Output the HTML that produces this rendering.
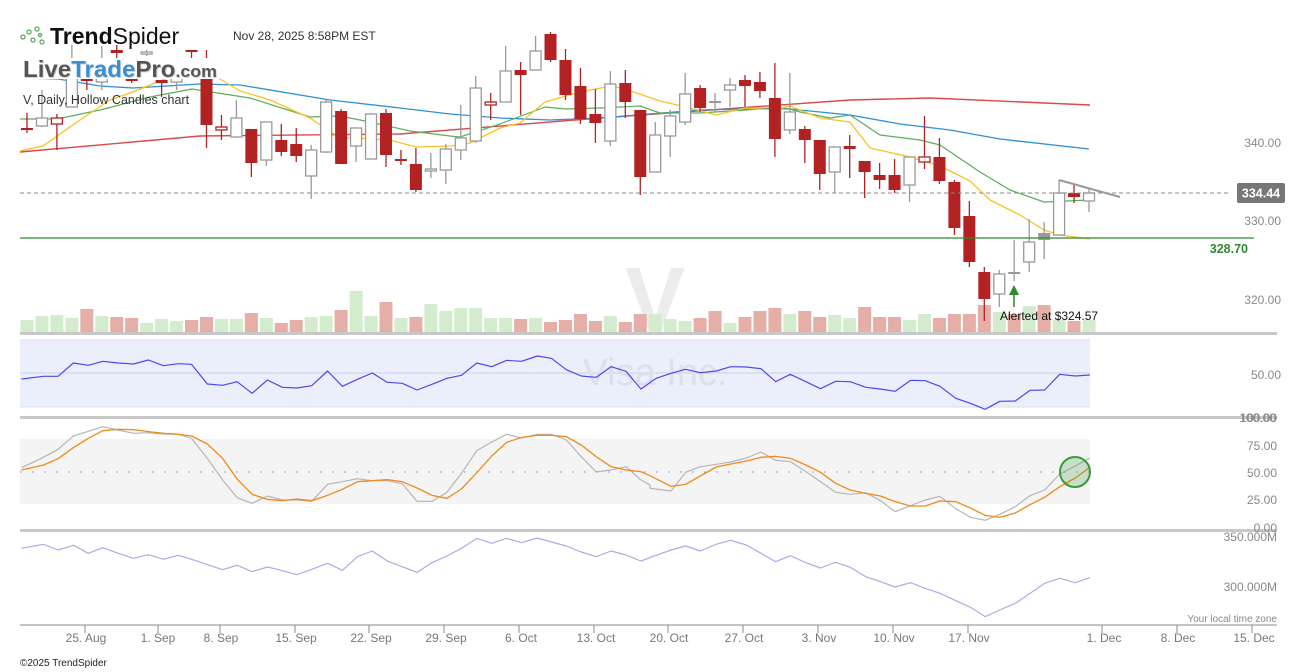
<!DOCTYPE html>
<html><head><meta charset="utf-8">
<style>
html,body{margin:0;padding:0;background:#fff;}
body{width:1307px;height:672px;overflow:hidden;position:relative;font-family:"Liberation Sans",sans-serif;}
svg{position:absolute;left:0;top:0;}
</style></head>
<body>
<svg id="s" width="1307" height="672" xmlns="http://www.w3.org/2000/svg" font-family="Liberation Sans, sans-serif">
<text x="655" y="330" font-size="90" fill="#ececec" text-anchor="middle" font-weight="bold">V</text>
<!-- panels bg -->
<rect x="20" y="340" width="1070" height="67" fill="#ebeefb"/>
<line x1="20" y1="340" x2="1090" y2="340" stroke="#d8dcf2"/>
<line x1="20" y1="407" x2="1090" y2="407" stroke="#d8dcf2"/>
<line x1="20" y1="373" x2="1090" y2="373" stroke="#ccd0e8"/>
<text x="655" y="385" font-size="38" fill="#dcdfee" text-anchor="middle">Visa Inc.</text>
<rect x="20" y="439" width="1070" height="65" fill="#f4f4f4"/>
<line x1="20" y1="472" x2="1090" y2="472" stroke="#a9a0e6" stroke-dasharray="1.5,10.5" stroke-width="1.5"/>
<g id="g"></g>
<!-- separators -->
<rect x="20" y="332" width="1257" height="3" fill="#c8c8c8"/>
<rect x="20" y="416" width="1257" height="3" fill="#c8c8c8"/>
<rect x="20" y="529" width="1257" height="3" fill="#c8c8c8"/>
<line x1="20" y1="625" x2="1277" y2="625" stroke="#888" stroke-width="1"/>
<!-- price lines -->
<line x1="20" y1="193" x2="1228" y2="193" stroke="#888" stroke-dasharray="4,3"/>
<line x1="20" y1="238" x2="1254" y2="238" stroke="#2e8b2e" stroke-width="1.2"/>
<line x1="1059" y1="180" x2="1120" y2="197" stroke="#999" stroke-width="2"/>
<rect x="1237" y="183" width="48" height="20" rx="2" fill="#777"/>
<text x="1261" y="197.5" font-size="12.5" fill="#fff" text-anchor="middle" font-weight="bold">334.44</text>
<text x="1248" y="253" font-size="12.5" fill="#2e8b2e" text-anchor="end" font-weight="bold">328.70</text>
<g font-size="12" fill="#888" text-anchor="end">
<text x="1281" y="147">340.00</text>
<text x="1281" y="225">330.00</text>
<text x="1281" y="304">320.00</text>
<text x="1281" y="379">50.00</text>
<text x="1277" y="422">100.00</text>
<text x="1276" y="422">100.00</text>
<text x="1277" y="450">75.00</text>
<text x="1277" y="477">50.00</text>
<text x="1277" y="504">25.00</text>
<text x="1277" y="532">0.00</text>
<text x="1277" y="541">350.000M</text>
<text x="1277" y="591">300.000M</text>
<text x="1277" y="622" font-size="10">Your local time zone</text>
</g>
<line x1="1014" y1="294" x2="1014" y2="307" stroke="#2e8b2e" stroke-width="1.5"/>
<polygon points="1014,285 1009,295 1019,295" fill="#2e8b2e"/>
<text x="1000" y="320" font-size="12" fill="#111">Alerted at $324.57</text>
<ellipse cx="1075" cy="472" rx="15" ry="15" fill="rgba(60,160,60,0.25)" stroke="#3a9a3a" stroke-width="2"/>
<g font-size="12" fill="#777" text-anchor="middle">
<text x="86" y="642">25. Aug</text><text x="158" y="642">1. Sep</text><text x="221" y="642">8. Sep</text>
<text x="296" y="642">15. Sep</text><text x="371" y="642">22. Sep</text><text x="446" y="642">29. Sep</text>
<text x="521" y="642">6. Oct</text><text x="596" y="642">13. Oct</text><text x="669" y="642">20. Oct</text>
<text x="744" y="642">27. Oct</text><text x="819" y="642">3. Nov</text><text x="894" y="642">10. Nov</text>
<text x="969" y="642">17. Nov</text><text x="1104" y="642">1. Dec</text><text x="1178" y="642">8. Dec</text>
<text x="1254" y="642">15. Dec</text>
</g>
<g stroke="#888"><line x1="85" y1="625" x2="85" y2="633"/><line x1="158" y1="625" x2="158" y2="633"/><line x1="220" y1="625" x2="220" y2="633"/><line x1="295" y1="625" x2="295" y2="633"/><line x1="369" y1="625" x2="369" y2="633"/><line x1="444" y1="625" x2="444" y2="633"/><line x1="519" y1="625" x2="519" y2="633"/><line x1="594" y1="625" x2="594" y2="633"/><line x1="668" y1="625" x2="668" y2="633"/><line x1="743" y1="625" x2="743" y2="633"/><line x1="818" y1="625" x2="818" y2="633"/><line x1="893" y1="625" x2="893" y2="633"/><line x1="968" y1="625" x2="968" y2="633"/><line x1="1102" y1="625" x2="1102" y2="633"/><line x1="1177" y1="625" x2="1177" y2="633"/><line x1="1252" y1="625" x2="1252" y2="633"/></g>
<text x="20" y="666" font-size="10" fill="#222">©2025 TrendSpider</text>
<!-- header -->
<rect x="0" y="0" width="230" height="45" fill="#fff"/>
<rect x="20" y="58" width="200" height="21" fill="#fff"/>
<g fill="none" stroke="#5aa85a" stroke-width="1.3">
<circle cx="23" cy="37" r="2"/><circle cx="29" cy="32" r="2"/><circle cx="33" cy="40" r="2"/><circle cx="37" cy="29" r="2"/><circle cx="42" cy="42" r="2"/><circle cx="40" cy="35" r="1.5"/>
</g>
<text x="50" y="44" font-size="23" fill="#111"><tspan font-weight="bold">Trend</tspan><tspan>Spider</tspan></text>
<text x="233" y="40" font-size="12" fill="#333">Nov 28, 2025 8:58PM EST</text>
<text x="24" y="78" font-size="23" font-weight="bold" fill="#bbb" opacity="0.6" textLength="194" lengthAdjust="spacingAndGlyphs">LiveTradePro<tspan font-size="17">.com</tspan></text>
<text x="23" y="77" font-size="23" font-weight="bold" fill="#555" textLength="194" lengthAdjust="spacingAndGlyphs"><tspan>Live</tspan><tspan fill="#3a8fd0">Trade</tspan><tspan>Pro</tspan><tspan font-size="17">.com</tspan></text>
<text x="23" y="104" font-size="12.5" fill="#333">V, Daily, Hollow Candles chart</text>
</svg>
<script>
var NS="http://www.w3.org/2000/svg",g=document.getElementById('g');
function el(t,a){var e=document.createElementNS(NS,t);for(var k in a)e.setAttribute(k,a[k]);g.appendChild(e);return e;}
function pl(pts,c,w){el('polyline',{points:pts.map(function(p){return p[0]+','+p[1]}).join(' '),fill:'none',stroke:c,'stroke-width':w||1.2,'stroke-linejoin':'round'});}
var vol=[[320,'g'],[316,'g'],[315,'g'],[318,'g'],[309,'r'],[316,'g'],[317,'r'],[318,'r'],[323,'g'],[319,'g'],[321,'g'],[320,'r'],[317,'r'],[319,'g'],[319,'g'],[313,'r'],[318,'g'],[323,'r'],[320,'r'],[317,'g'],[316,'g'],[310,'r'],[291,'g'],[316,'g'],[302,'r'],[318,'g'],[317,'r'],[304,'g'],[311,'g'],[308,'g'],[308,'g'],[318,'g'],[318,'g'],[319,'r'],[318,'g'],[322,'r'],[320,'r'],[314,'r'],[321,'r'],[316,'g'],[322,'r'],[314,'r'],[314,'g'],[319,'g'],[321,'g'],[318,'r'],[311,'r'],[323,'g'],[317,'r'],[311,'r'],[308,'r'],[314,'g'],[311,'r'],[317,'r'],[315,'g'],[318,'g'],[307,'r'],[317,'r'],[317,'r'],[320,'g'],[314,'g'],[318,'r'],[314,'r'],[314,'r'],[305,'r'],[312,'g'],[314,'r'],[306,'g'],[305,'r'],[320,'g'],[321,'r'],[320,'g']];
function X(i){return 27+i*14.958;}
vol.forEach(function(v,i){el('rect',{x:X(i)-6.5,y:v[0],width:13,height:332-v[0],fill:v[1]=='g'?'#d3ecce':'#e5aea6'});});
pl([[20,152],[200,136],[400,134],[600,118],[850,100],[930,98],[1090,105]],'#d94a4a',1.4);
pl([[25,78],[58,79],[100,86],[133,88],[200,84],[240,85],[330,100],[400,108],[450,114],[500,118],[550,120],[600,118],[700,110],[780,108],[850,115],[900,124],[950,130],[1000,139],[1089,149]],'#2f8fd8',1.3);
pl([[20,119],[57,119],[100,110],[150,97],[192,89],[250,98],[310,117],[340,116],[370,122],[410,131],[450,136],[460,137],[500,124],[545,107],[565,109],[600,108],[640,106],[660,113],[700,113],[760,109],[790,109],[800,112],[830,118],[850,115],[880,135],[920,140],[940,145],[980,172],[1010,190],[1044,202],[1089,200]],'#5cad5c',1.2);
pl([[20,151],[43,146],[80,120],[110,100],[133,92],[150,85],[175,75],[192,71],[220,79],[240,91],[270,100],[310,118],[340,138],[355,138],[390,140],[416,147],[450,146],[470,143],[500,128],[520,123],[545,102],[580,92],[611,86],[625,89],[660,101],[690,108],[716,115],[745,108],[775,110],[790,106],[820,118],[850,122],[870,148],[910,157],[940,166],[970,181],[990,200],[1020,215],[1044,230],[1060,235],[1090,239]],'#f7c325',1.3);
var c=[[113,133,128,130,'r'],[90,127,118,126,'h'],[114,150,118,124,'rh'],[45,107,60,107,'h'],[79,90,79,81,'r'],[46,90,78,82,'h'],[45,58,50,53,'r'],[78,83,79,81,'r'],[50,56,52,54,'h'],[80,97,80,83,'r'],[58,90,78,82,'h'],[50,58,50,52,'r'],[50,148,79,125,'r'],[115,140,127,130,'rh'],[100,138,118,137,'h'],[129,177,129,163,'r'],[122,166,122,160,'h'],[124,156,140,152,'r'],[128,162,144,156,'r'],[145,199,150,176,'h'],[100,153,102,152,'h'],[109,164,111,164,'r'],[128,162,128,146,'h'],[113,159,114,159,'h'],[109,167,113,155,'r'],[150,165,159,161,'r'],[148,192,164,190,'r'],[153,178,169,171,'h'],[144,184,149,170,'h'],[105,160,138,150,'h'],[76,143,88,141,'h'],[93,120,102,105,'rh'],[46,102,71,102,'h'],[62,115,70,75,'r'],[36,70,51,70,'h'],[32,62,34,60,'r'],[49,100,60,95,'r'],[68,124,86,119,'r'],[89,143,114,123,'r'],[71,146,84,141,'h'],[70,118,83,102,'r'],[110,195,110,177,'r'],[122,172,135,172,'h'],[110,157,116,136,'h'],[73,125,94,122,'h'],[85,112,88,108,'r'],[93,112,101,103,'gf'],[78,107,85,90,'h'],[75,107,80,86,'r'],[72,98,82,91,'r'],[63,157,98,139,'r'],[73,134,112,130,'h'],[126,163,129,140,'r'],[140,190,140,174,'r'],[147,193,147,172,'h'],[135,178,146,149,'r'],[161,198,161,172,'r'],[163,189,175,180,'r'],[159,193,175,190,'r'],[157,202,157,185,'h'],[116,169,157,162,'rh'],[138,184,157,181,'r'],[180,235,182,228,'r'],[201,267,216,262,'r'],[267,321,272,299,'r'],[270,307,274,294,'h'],[240,281,272,274,'gf'],[219,272,242,262,'h'],[222,259,233,240,'gf'],[180,235,193,235,'h'],[185,203,193,197,'r'],[188,212,193,201,'h']];
c.forEach(function(d,i){var x=X(i),t=d[4];var col=(t=='r'||t=='rh')?'#b22222':'#999';
el('line',{x1:x,y1:d[0],x2:x,y2:d[1],stroke:col,'stroke-width':1.3});
var h=Math.max(d[3]-d[2],2);
if(t=='r'||t=='gf')el('rect',{x:x-6,y:d[2],width:12,height:h,fill:col});
else el('rect',{x:x-5.5,y:d[2],width:11,height:h,fill:'#fff',stroke:col,'stroke-width':1.3});});
function cv(a,ox,f){return a.map(function(p){return [ox+p[0]/f,330+p[1]/3];});}
var r1=[[52,147],[105,139],[140,139],[177,99],[213,106],[248,94],[285,99],[322,102],[358,90],[394,107],[430,101],[462,103],[500,162],[537,166],[572,155],[608,190],[645,150],[681,172],[716,174],[752,167],[790,123],[826,169],[862,148],[898,129],[934,157],[970,160],[1006,180],[1042,163],[1078,145],[1113,136],[1150,99],[1186,110],[1222,91],[1258,94],[1296,78],[1330,85],[1366,119],[1402,138],[1438,142],[1474,110],[1510,124],[1546,177],[1568,158]];
var r2=[[0,157],[15,145],[50,130],[85,118],[120,128],[158,123],[193,110],[230,111],[265,116],[300,155],[335,133],[372,155],[407,176],[443,154],[478,155],[515,172],[550,177],[585,184],[622,151],[657,152],[692,169],[730,205],[765,220],[800,238],[835,214],[872,213],[907,181],[942,180],[978,133],[1015,138],[1050,135]];
pl(cv(r1,0,2.412).concat(cv(r2,650,2.387)),'#4a4af0',1.2);
var sg1=[[52,413],[100,385],[140,358],[177,318],[213,304],[248,290],[285,300],[322,310],[358,308],[394,312],[430,313],[462,325],[500,385],[537,450],[572,503],[608,520],[645,498],[681,510],[716,510],[752,514],[790,463],[826,455],[862,446],[898,452],[934,452],[970,461],[1006,514],[1042,514],[1078,487],[1113,430],[1150,362],[1186,336],[1222,313],[1258,324],[1296,313],[1330,313],[1366,330],[1402,380],[1438,426],[1474,420],[1510,410],[1546,450],[1568,465]];
var sg2=[[0,475],[50,483],[85,427],[120,410],[158,403],[193,396],[230,384],[265,366],[300,391],[335,395],[372,425],[407,455],[443,487],[478,493],[515,488],[550,512],[585,545],[622,527],[657,510],[692,499],[730,536],[765,562],[800,571],[835,553],[872,530],[907,497],[942,480],[978,432],[1015,408],[1050,384]];
pl(cv(sg1,0,2.412).concat(cv(sg2,650,2.387)),'#b5b5b5',1.2);
var so1=[[52,420],[105,405],[140,386],[177,353],[213,325],[248,302],[285,298],[322,299],[358,305],[394,310],[430,313],[462,318],[500,342],[537,385],[572,447],[608,493],[645,508],[681,512],[716,507],[752,512],[790,496],[826,478],[862,455],[898,452],[934,449],[970,455],[1006,474],[1042,496],[1078,505],[1113,477],[1150,428],[1186,378],[1222,337],[1258,322],[1296,316],[1330,316],[1366,320],[1402,345],[1438,380],[1474,410],[1510,420],[1546,425],[1568,437]];
var so2=[[0,437],[50,469],[85,463],[120,438],[158,411],[193,402],[230,393],[265,382],[300,379],[335,385],[372,405],[407,427],[443,460],[478,480],[515,490],[550,498],[585,515],[622,528],[657,528],[692,513],[730,515],[765,534],[800,556],[835,562],[872,549],[907,524],[942,502],[978,470],[1015,444],[1050,412]];
pl(cv(so1,0,2.412).concat(cv(so2,650,2.387)),'#f08a1c',1.3);
var o1=[[52,655],[105,643],[140,660],[177,646],[213,670],[248,653],[285,670],[322,685],[358,674],[394,688],[430,676],[462,688],[500,704],[537,719],[572,706],[608,725],[645,711],[681,722],[716,734],[752,718],[790,700],[826,721],[862,680],[898,663],[934,693],[970,710],[1006,727],[1042,698],[1078,678],[1113,655],[1150,625],[1186,640],[1222,625],[1258,638],[1296,624],[1330,636],[1366,648],[1402,666],[1438,680],[1474,663],[1510,675],[1546,693],[1568,683]];
var o2=[[0,682],[15,676],[50,660],[85,648],[120,663],[158,643],[193,631],[230,645],[265,670],[300,695],[335,677],[372,698],[407,714],[443,697],[478,712],[515,740],[550,755],[585,771],[622,758],[657,775],[692,790],[730,812],[765,832],[800,860],[835,840],[872,820],[907,790],[942,760],[978,745],[1015,758],[1050,743]];
pl(cv(o1,0,2.412).concat(cv(o2,650,2.387)),'#b3a6ea',1.2);
</script>
</body></html>
